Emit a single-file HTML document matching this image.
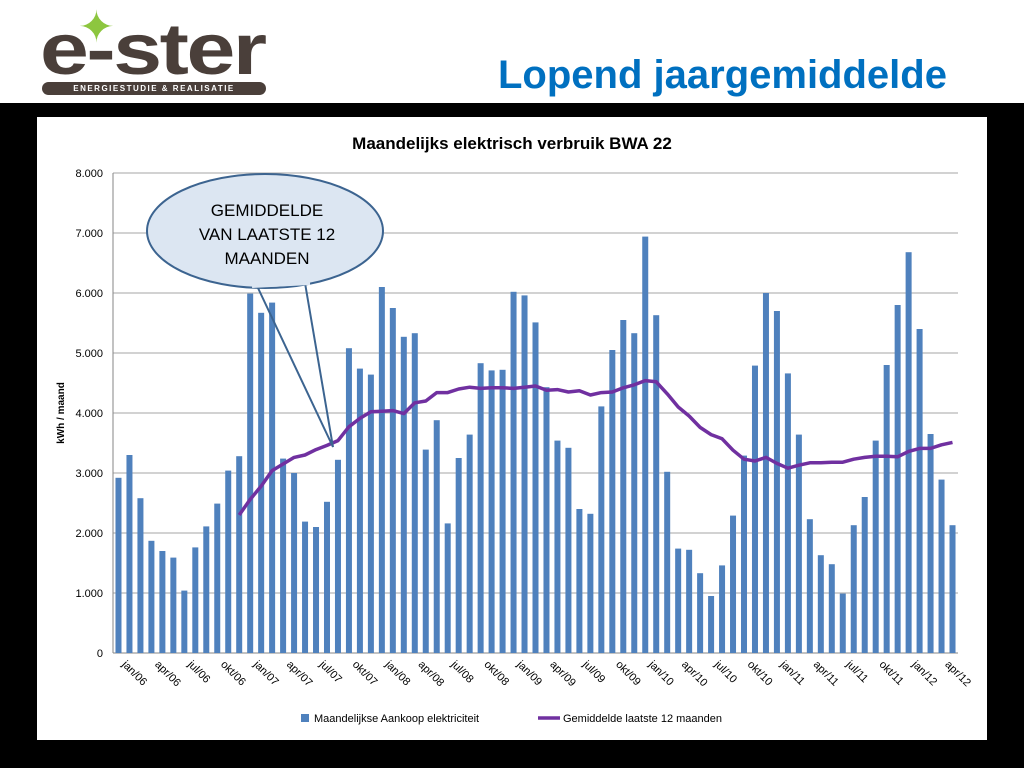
<!DOCTYPE html>
<html><head><meta charset="utf-8"><style>
body{margin:0;width:1024px;height:768px;overflow:hidden;background:#fff;font-family:"Liberation Sans",sans-serif;position:relative}
</style></head><body>
<div style="position:absolute;left:0;top:0;width:1024px;height:103px;background:#fff">
 <div style="position:absolute;left:40px;top:0;width:230px;height:100px">
  <div style="position:absolute;left:0;top:14px;font:bold 72px 'Liberation Sans',sans-serif;color:#4a3f3a;letter-spacing:-2px;line-height:72px;transform:scaleX(1.22);transform-origin:0 0">e-ster</div>
  <div style="position:absolute;left:38px;top:6px;color:#8dc63f;font-size:44px;line-height:44px">✦</div>
  <div style="position:absolute;left:2px;top:82px;width:224px;height:13px;background:#4a3f3a;border-radius:7px;color:#fff;font:bold 8px 'Liberation Sans',sans-serif;text-align:center;line-height:13px;letter-spacing:1.5px">ENERGIESTUDIE &amp; REALISATIE</div>
 </div>
 <div style="position:absolute;left:498px;top:55px;font:bold 40px 'Liberation Sans',sans-serif;line-height:40px;color:#0070c0;white-space:nowrap">Lopend jaargemiddelde</div>
</div>
<div style="position:absolute;left:0;top:103px;width:1024px;height:665px;background:#000"></div>
<svg id="c" style="position:absolute;left:0;top:0" width="1024" height="768"></svg>
<script>
const months=["jan","feb","mrt","apr","mei","jun","jul","aug","sep","okt","nov","dec"];
const startYear=2006;
const barValues=[2920,3300,2580,1870,1700,1590,1040,1760,2110,2490,3040,3280,
5990,5670,5840,3240,3000,2190,2100,2520,3220,5080,4740,4640,
6100,5750,5270,5330,3390,3880,2160,3250,3640,4830,4710,4720,
6020,5960,5510,4430,3540,3420,2400,2320,4110,5050,5550,5330,
6940,5630,3020,1740,1720,1330,950,1460,2290,3290,4790,6000,
5700,4660,3640,2230,1630,1480,990,2130,2600,3540,4800,5800,
6680,5400,3650,2890,2130];
const avgStart=11;
const avgValues=[2300,2560,2780,3040,3150,3260,3300,3390,3460,3540,3770,3910,4020,4030,4040,3990,4170,4200,4340,4340,4400,4430,4410,4420,4420,4410,4430,4450,4380,4390,4350,4370,4300,4340,4350,4420,4470,4540,4520,4320,4100,3950,3760,3640,3570,3380,3230,3200,3260,3160,3080,3130,3170,3170,3180,3180,3230,3260,3280,3280,3270,3360,3410,3410,3470,3510];
const yTicks=[0,1000,2000,3000,4000,5000,6000,7000,8000];
const yTickLabels=["0","1.000","2.000","3.000","4.000","5.000","6.000","7.000","8.000"];
const NS="http://www.w3.org/2000/svg";
const svg=document.getElementById('c');
function mk(t,a,p){const e=document.createElementNS(NS,t);for(const k in a)e.setAttribute(k,a[k]);(p||svg).appendChild(e);return e;}
const L=113,R=958,T=173,B=653,n=barValues.length,step=(R-L)/n;
const x=i=>L+step*(i+0.5), y=v=>B-(v/8000)*(B-T);
let bg=mk('rect',{x:37,y:117,width:950,height:623,fill:'#fff'});


let tt=mk('text',{x:512,y:149,'text-anchor':'middle','font-size':17,'font-weight':'bold',fill:'#000','font-family':'Liberation Sans'});
tt.textContent='Maandelijks elektrisch verbruik BWA 22';


yTicks.forEach((v,i)=>{
 const g=mk('line',{x1:L,x2:R,y1:y(v),y2:y(v),stroke:i?'#a6a6a6':'#868686','stroke-width':1});
 
 
 const t=mk('text',{x:L-10,y:y(v)+4,'text-anchor':'end','font-size':11,fill:'#000','font-family':'Liberation Sans'});
 t.textContent=yTickLabels[i];
 
 
});
mk('line',{x1:L,x2:L,y1:T,y2:B,stroke:'#868686'});
let yt=mk('text',{transform:'translate(64,413) rotate(-90)','text-anchor':'middle','font-size':10,'font-weight':'bold','font-family':'Liberation Sans'});
yt.textContent='kWh / maand';


barValues.forEach((v,i)=>{
 const r=mk('rect',{x:x(i)-3,y:y(v),width:6,height:B-y(v),fill:'#4f81bd'});
 
 
 if(i%3===0){
  const lb=months[i%12]+'/'+String((startYear+Math.floor(i/12))%100).padStart(2,'0');
  const t=mk('text',{transform:`translate(${x(i)+3},${B+12}) rotate(45)`,'font-size':11,'font-family':'Liberation Sans'});
  t.textContent=lb;
  
  
 }
});
const pts=avgValues.map((v,j)=>x(j+avgStart).toFixed(1)+','+y(v).toFixed(1)).join(' ');
const pl=mk('polyline',{points:pts,fill:'none',stroke:'#7030a0','stroke-width':3.5,'stroke-linejoin':'round'});


const co=mk('g',{});


mk('path',{d:'M258,288 L333,447 L305,283',fill:'none',stroke:'#3c6490','stroke-width':2},co);
mk('ellipse',{cx:265,cy:231,rx:118,ry:57,fill:'#dce6f2',stroke:'#3c6490','stroke-width':2},co);
mk('path',{d:'M252,286 L310,283',stroke:'#dce6f2','stroke-width':4},co);
['GEMIDDELDE','VAN LAATSTE 12','MAANDEN'].forEach((s,i)=>{
 const t=mk('text',{x:267,y:216+i*24,'text-anchor':'middle','font-size':17,'font-family':'Liberation Sans',fill:'#000'},co);
 t.textContent=s;
});
const lg=mk('g',{});


mk('rect',{x:301,y:714,width:8,height:8,fill:'#4f81bd'},lg);
let l1=mk('text',{x:314,y:722,'font-size':11,'font-family':'Liberation Sans'},lg);l1.textContent='Maandelijkse Aankoop elektriciteit';
mk('line',{x1:538,x2:560,y1:718,y2:718,stroke:'#7030a0','stroke-width':3.5},lg);
let l2=mk('text',{x:563,y:722,'font-size':11,'font-family':'Liberation Sans'},lg);l2.textContent='Gemiddelde laatste 12 maanden';
</script>
</body></html>
